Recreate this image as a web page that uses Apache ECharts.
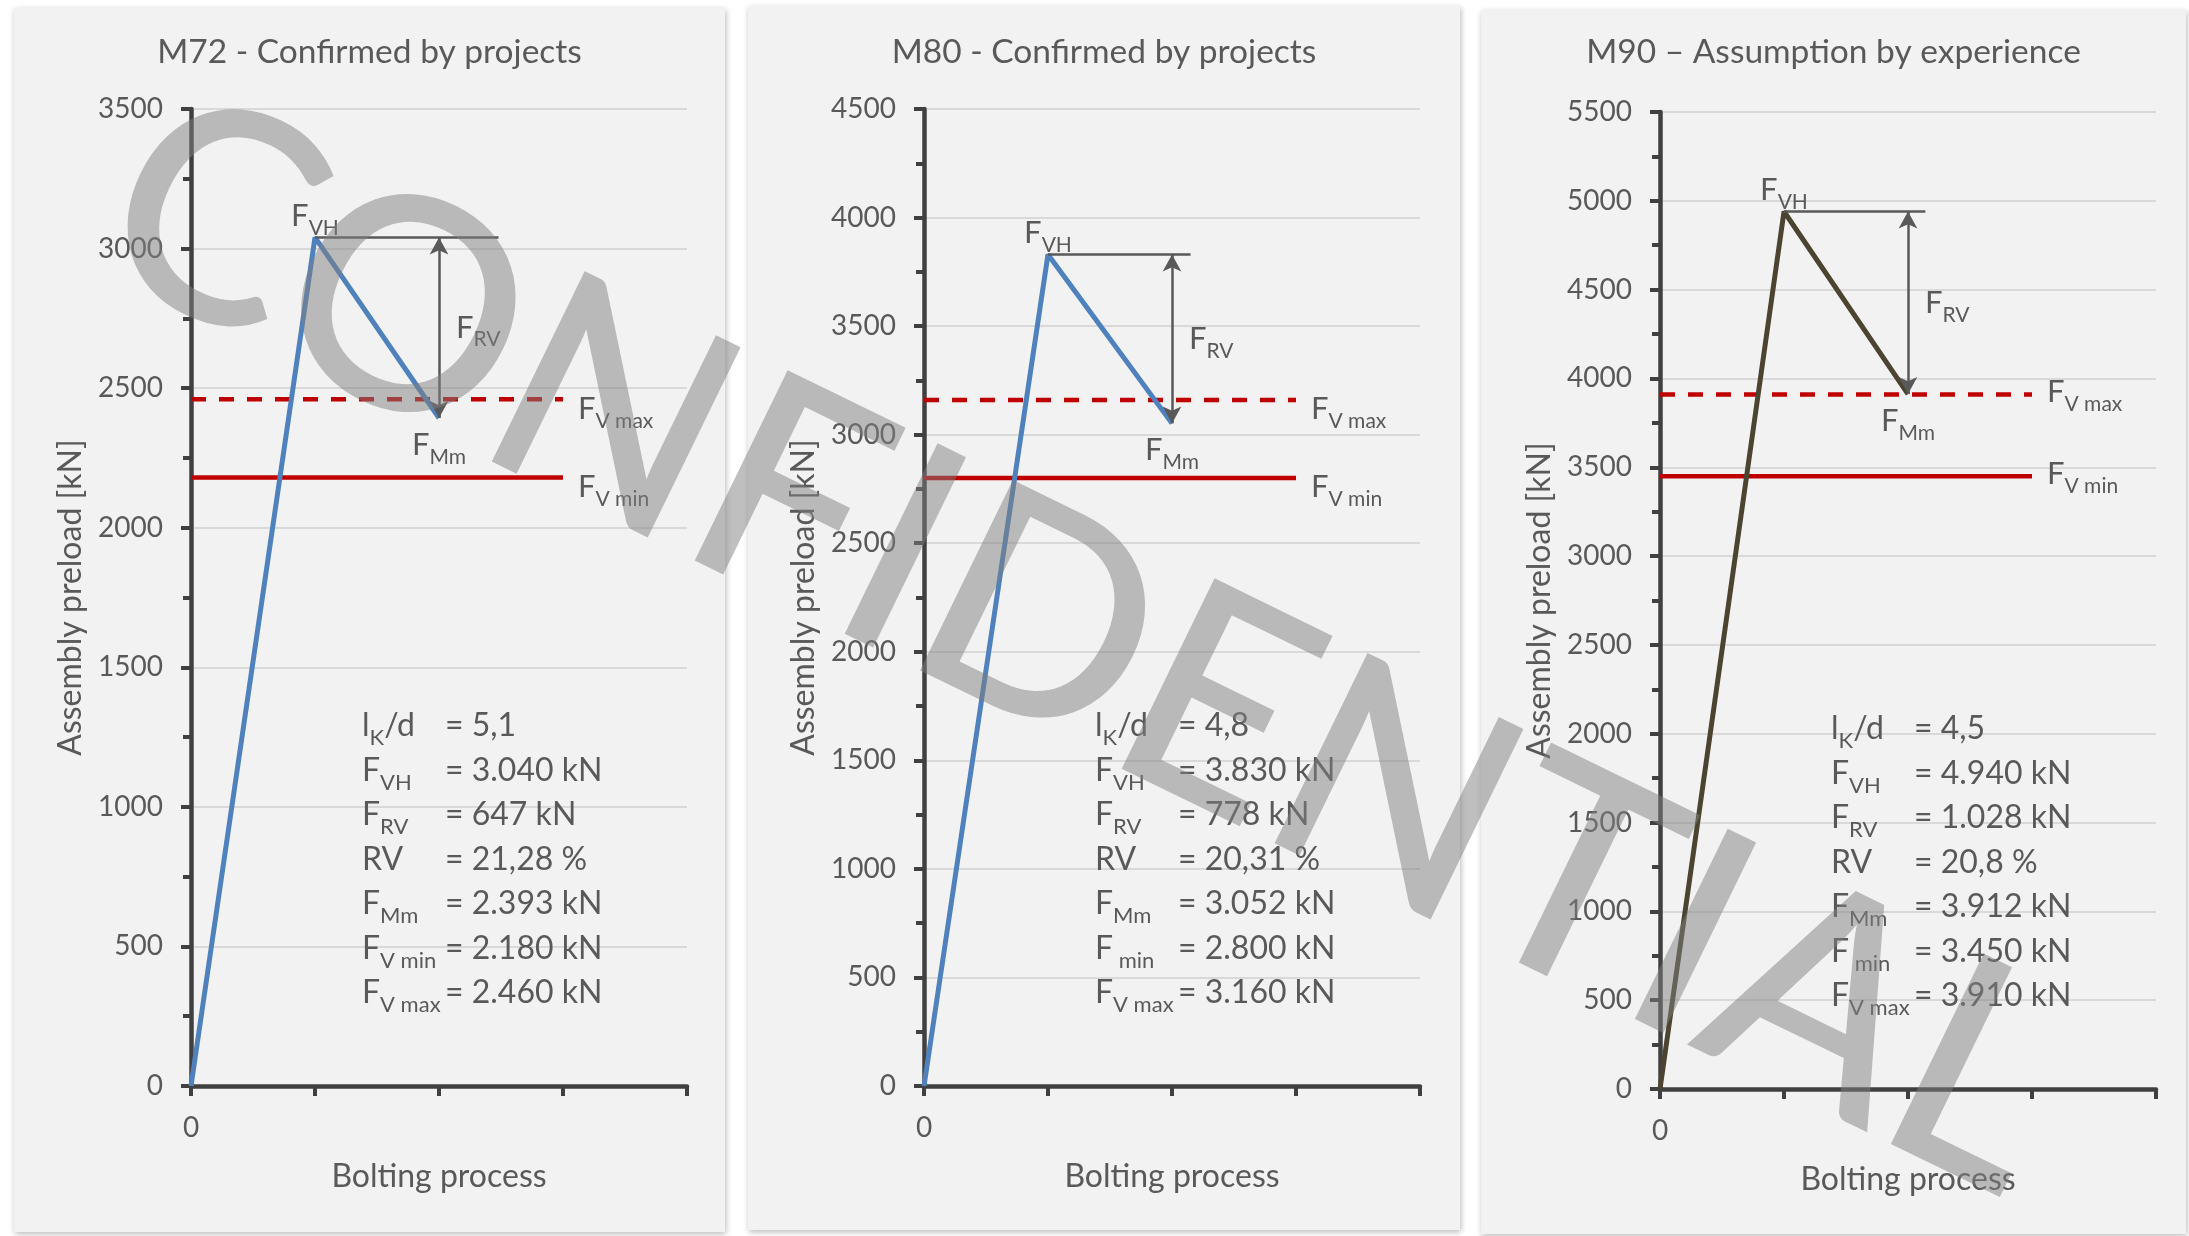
<!DOCTYPE html>
<html lang="en">
<head>
  <meta charset="UTF-8">
  <title>Bolting preload</title>
  <style>
    * { margin: 0; padding: 0; }
    body { background: #ffffff; overflow: hidden; }
    #chart { width: 2189px; height: 1236px; }
  </style>
</head>
<body>
  <div id="chart"></div>
  <script src="https://cdn.jsdelivr.net/npm/echarts@6/dist/echarts.min.js"></script>
  <script>
    // --- data ---
    const panelTitles = ['M72 - Confirmed by projects', 'M80 - Confirmed by projects', 'M90 – Assumption by experience'];
    const yMaxes = [3500, 4500, 5500];
    const steps = [0, 1, 2];
    const peakLoads = [3040, 3830, 4940];   // F_VH
    const meanLoads = [2393, 3052, 3912];   // F_Mm
    const minLoads = [2180, 2800, 3450];    // F_V min
    const maxLoads = [2460, 3160, 3910];    // F_V max
    const relaxLoads = [647, 778, 1028];    // F_RV
    const relaxPct = ['21,28', '20,31', '20,8'];
    const lkRatio = ['5,1', '4,8', '4,5'];
    const refLineEnd = 3;
    const peakMarkEnd = [2.48, 2.15, 2.14];
    const minLabels = ['{t|F}{s|V min}', '{t|F}{s| min}', '{t|F}{s| min}'];

    // --- layout / style ---
    const FONT = 'Lato, "Open Sans", sans-serif';
    const TXT = '#595959';
    const AXIS = '#404040';
    const lineColors = ['#4f81bd', '#4f81bd', '#4a4430'];
    const panels = [[14, 8, 711, 1224], [748, 6, 712, 1224], [1481, 10, 705, 1224]];
    const gridLeft = [191, 924, 1660];
    const gridTop = [109, 109, 112];
    const GRID_W = 496, GRID_H = 977;
    const refLabelDy = [10, 9, -2];

    const de = n => String(n).replace(/\B(?=(\d{3})+(?!\d))/g, '.');

    const labelRich = {
      t: { fontSize: 31, fontFamily: FONT, color: TXT, lineHeight: 34 },
      s: { fontSize: 21, fontFamily: FONT, color: TXT, lineHeight: 20, padding: [24, 0, 0, 0] }
    };
    const statRich = {
      t: { fontSize: 32, fontFamily: FONT, fill: TXT, lineHeight: 44.5 },
      s: { fontSize: 22, fontFamily: FONT, fill: TXT, lineHeight: 20, padding: [24, 0, 0, 0] }
    };

    const chart = echarts.init(document.getElementById('chart'));

    const grids = [], xAxes = [], yAxes = [], series = [], graphics = [];

    panels.forEach((p, i) => {
      graphics.push({
        type: 'rect', z: -10,
        shape: { x: p[0], y: p[1], width: p[2], height: p[3] },
        style: { fill: '#f2f2f2', shadowBlur: 6, shadowColor: 'rgba(0,0,0,0.28)', shadowOffsetX: 1, shadowOffsetY: 2 }
      });
      graphics.push({
        type: 'text', z: 5,
        x: p[0] + p[2] / 2, y: 52,
        style: { text: panelTitles[i], font: '33.5px ' + FONT, fill: TXT, align: 'center', verticalAlign: 'middle', textAlign: 'center', textVerticalAlign: 'middle' }
      });
    });

    for (let i = 0; i < 3; i++) {
      grids.push({ left: gridLeft[i], top: gridTop[i], width: GRID_W, height: GRID_H });
      xAxes.push({
        type: 'value', gridIndex: i, min: 0, max: 4, interval: 1,
        name: 'Bolting process', nameLocation: 'middle', nameGap: 75,
        nameTextStyle: { fontSize: 32, color: TXT, fontFamily: FONT },
        axisLine: { show: true, onZero: false, lineStyle: { color: AXIS, width: 4.5 } },
        axisTick: { show: true, length: 10, lineStyle: { color: AXIS, width: 4 } },
        axisLabel: { formatter: v => (v === 0 ? '0' : ''), margin: 28, fontSize: 28, color: TXT, fontFamily: FONT },
        splitLine: { show: false }
      });
      yAxes.push({
        type: 'value', gridIndex: i, min: 0, max: yMaxes[i], interval: 500,
        name: 'Assembly preload [kN]', nameLocation: 'middle', nameGap: 104, nameRotate: 90,
        nameTextStyle: { fontSize: 32, color: TXT, fontFamily: FONT },
        axisLine: { show: true, lineStyle: { color: AXIS, width: 4.5 } },
        axisTick: { show: true, length: 10, lineStyle: { color: AXIS, width: 4 } },
        minorTick: { show: true, splitNumber: 2, length: 8, lineStyle: { color: AXIS, width: 4 } },
        axisLabel: { formatter: v => String(v), margin: 28, fontSize: 28, color: TXT, fontFamily: FONT },
        splitLine: { show: true, lineStyle: { color: '#d9d9d9', width: 2 } }
      });

      const loads = [0, peakLoads[i], meanLoads[i]];
      const midRV = (peakLoads[i] + meanLoads[i]) / 2;
      const arrowEnd = { symbol: 'arrow', symbolSize: [14, 17] };

      series.push({
        type: 'line', xAxisIndex: i, yAxisIndex: i, z: 4,
        data: steps.map((x, k) => [x, loads[k]]),
        symbol: 'none',
        lineStyle: { color: lineColors[i], width: 5 },
        markLine: {
          silent: true, animation: false,
          symbol: ['none', 'none'],
          label: { show: false },
          lineStyle: { color: TXT, width: 2.5, type: 'solid' },
          emphasis: { disabled: true },
          data: [
            [{ coord: [steps[1], peakLoads[i]] }, { coord: [peakMarkEnd[i], peakLoads[i]] }],
            [Object.assign({ coord: [steps[2], peakLoads[i]] }, arrowEnd), Object.assign({ coord: [steps[2], meanLoads[i]] }, arrowEnd)]
          ]
        },
        markPoint: {
          silent: true, animation: false, symbolSize: 0,
          label: { show: true, rich: labelRich },
          data: [
            { coord: [steps[1], peakLoads[i]], label: { position: 'top', distance: 4, formatter: '{t|F}{s|VH}' } },
            { coord: [steps[2], meanLoads[i]], label: { position: 'bottom', distance: 10, formatter: '{t|F}{s|Mm}' } },
            { coord: [steps[2], midRV], label: { position: 'right', distance: 17, formatter: '{t|F}{s|RV}' } },
            { coord: [refLineEnd, maxLoads[i]], label: { position: 'right', distance: 15, offset: [0, refLabelDy[i]], formatter: '{t|F}{s|V max}' } },
            { coord: [refLineEnd, minLoads[i]], label: { position: 'right', distance: 15, offset: [0, refLabelDy[i]], formatter: '{t|F}{s|V min}' } }
          ]
        }
      });
      series.push({
        type: 'line', xAxisIndex: i, yAxisIndex: i, z: 3, symbol: 'none',
        data: [[0, maxLoads[i]], [refLineEnd, maxLoads[i]]],
        lineStyle: { color: '#c00000', width: 4.5, type: [15, 13] }
      });
      series.push({
        type: 'line', xAxisIndex: i, yAxisIndex: i, z: 3, symbol: 'none',
        data: [[0, minLoads[i]], [refLineEnd, minLoads[i]]],
        lineStyle: { color: '#c00000', width: 4.5 }
      });

      // text block with the key figures
      const sx = gridLeft[i] + 171;
      const sy = gridTop[i] + 617 - 22.25;
      graphics.push({
        type: 'text', z: 5, x: sx, y: sy,
        style: {
          text: ['{t|l}{s|K}{t|/d}', '{t|F}{s|VH}', '{t|F}{s|RV}', '{t|RV}', '{t|F}{s|Mm}', minLabels[i], '{t|F}{s|V max}'].join('\n'),
          rich: statRich, font: '32px ' + FONT, fill: TXT, lineHeight: 44.5,
          align: 'left', verticalAlign: 'top', textAlign: 'left', textVerticalAlign: 'top'
        }
      });
      graphics.push({
        type: 'text', z: 5, x: gridLeft[i] + 254, y: sy,
        style: {
          text: [
            '= ' + lkRatio[i],
            '= ' + de(peakLoads[i]) + ' kN',
            '= ' + de(relaxLoads[i]) + ' kN',
            '= ' + relaxPct[i] + ' %',
            '= ' + de(meanLoads[i]) + ' kN',
            '= ' + de(minLoads[i]) + ' kN',
            '= ' + de(maxLoads[i]) + ' kN'
          ].join('\n'),
          font: '32px ' + FONT, fill: TXT, lineHeight: 44.5,
          align: 'left', verticalAlign: 'top', textAlign: 'left', textVerticalAlign: 'top'
        }
      });
    }

    // watermark across all three panels
    graphics.push({
      type: 'text', z: 100, x: 1085, y: 645, rotation: -26 * Math.PI / 180,
      style: {
        text: 'CONFIDENTIAL', font: '500 295px ' + FONT, fill: 'rgba(128,128,128,0.5)',
        align: 'center', verticalAlign: 'middle', textAlign: 'center', textVerticalAlign: 'middle'
      }
    });

    chart.setOption({
      animation: false,
      backgroundColor: '#ffffff',
      grid: grids,
      xAxis: xAxes,
      yAxis: yAxes,
      series: series,
      graphic: { elements: graphics }
    });
  </script>
</body>
</html>
